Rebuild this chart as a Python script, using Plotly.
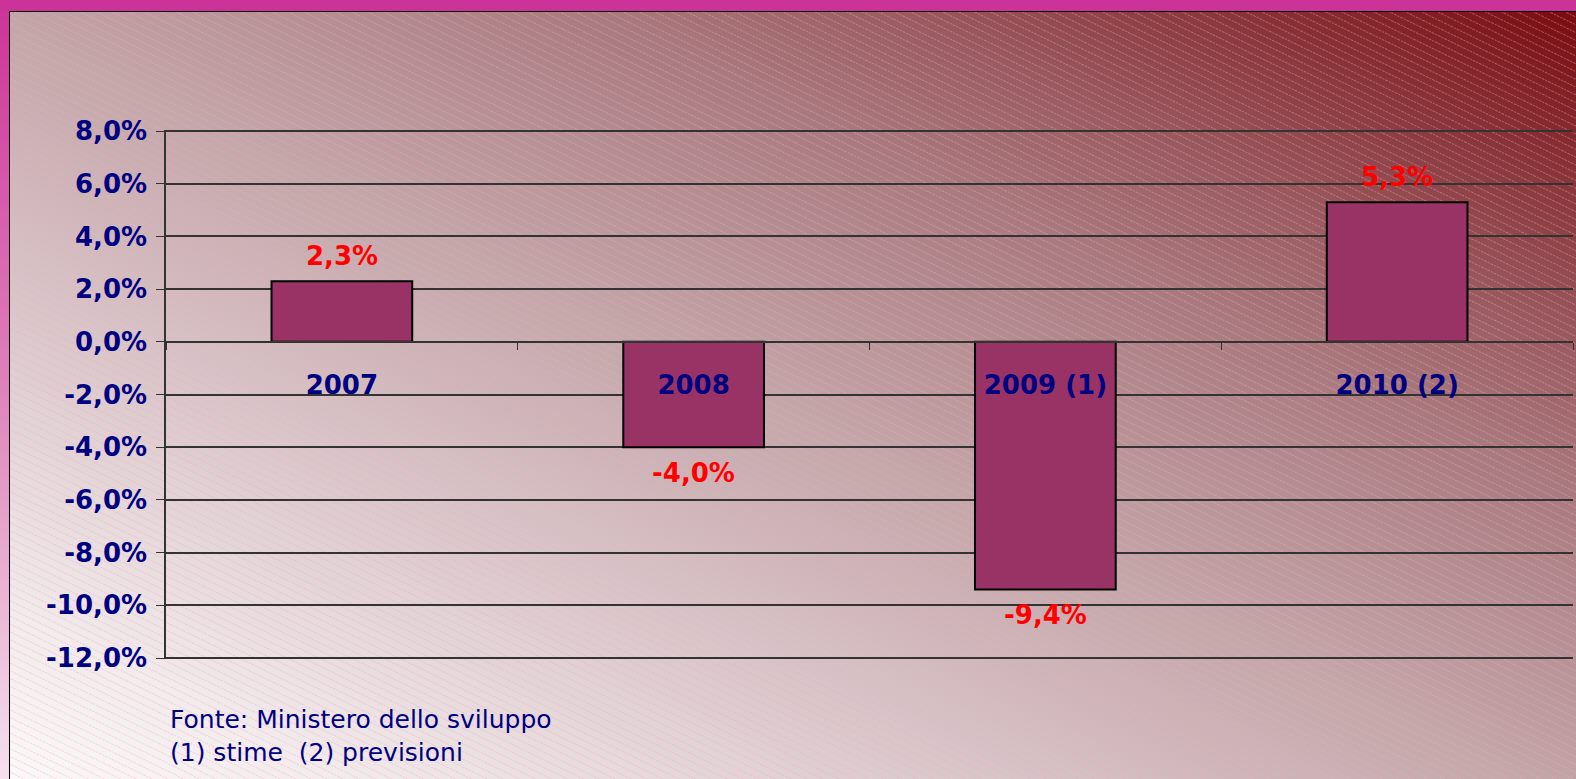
import base64
import plotly.graph_objects as go

# dati (variazione % annua)
anni = ["2007", "2008", "2009 (1)", "2010 (2)"]
valori = [2.3, -4.0, -9.4, 5.3]
etichette = ["2,3%", "-4,0%", "-9,4%", "5,3%"]
tick_vals = [8, 6, 4, 2, 0, -2, -4, -6, -8, -10, -12]
tick_text = ["8,0%", "6,0%", "4,0%", "2,0%", "0,0%", "-2,0%", "-4,0%",
             "-6,0%", "-8,0%", "-10,0%", "-12,0%"]
nota = "Fonte: Ministero dello sviluppo<br>(1) stime  (2) previsioni"

W, H = 1576, 779
NAVY = "#000080"
FONT = "DejaVu Sans"

# sfondo: cornice magenta + gradiente diagonale con tratteggio (svg inline)
svg = f"""<svg xmlns='http://www.w3.org/2000/svg' width='{W}' height='{H}' viewBox='0 0 {W} {H}' preserveAspectRatio='none'>
<defs>
<linearGradient id='side' x1='0' y1='0' x2='0' y2='1'>
 <stop offset='0' stop-color='#cc3399'/><stop offset='0.5' stop-color='#df82bb'/>
 <stop offset='1' stop-color='#f4e1ec'/></linearGradient>
<linearGradient id='bg' x1='0' y1='1' x2='1' y2='0'>
 <stop offset='0' stop-color='#fbf9f9'/><stop offset='0.11' stop-color='#f2ecec'/>
 <stop offset='0.37' stop-color='#d2bcbe'/><stop offset='0.5' stop-color='#c2a5a7'/>
 <stop offset='0.69' stop-color='#a87a7d'/><stop offset='0.78' stop-color='#9a5c60'/>
 <stop offset='0.85' stop-color='#8e4246'/><stop offset='0.96' stop-color='#7e1a1d'/>
 <stop offset='1' stop-color='#780a0c'/></linearGradient>
<pattern id='hatch' width='7' height='7' patternUnits='userSpaceOnUse' patternTransform='rotate(26)'>
 <line x1='0' y1='3.5' x2='7' y2='3.5' stroke='#ff9fcf' stroke-opacity='0.45' stroke-width='0.9' stroke-dasharray='2,1'/>
</pattern>
</defs>
<rect x='0' y='0' width='{W}' height='{H}' fill='url(#side)'/>
<rect x='0' y='0' width='{W}' height='11' fill='#cc3399'/>
<rect x='9.5' y='11.5' width='{W}' height='{H}' fill='url(#bg)' stroke='#000' stroke-width='1'/>
<rect x='10' y='12' width='{W}' height='{H}' fill='url(#hatch)'/>
</svg>"""
svg_uri = "data:image/svg+xml;base64," + base64.b64encode(svg.encode()).decode()

# range leggermente allargato perche' le griglie a 8% e -12% vengano disegnate
eps = 0.05
y_min, y_max = -12 - eps, 8 + eps
px_unit = (658 - 131) / 20
y_dom = [(H - 658 - eps * px_unit) / H, (H - 131 + eps * px_unit) / H]
zero_pos = y_dom[0] + (y_dom[1] - y_dom[0]) * (0 - y_min) / (y_max - y_min)

fig = go.Figure()
fig.add_trace(go.Bar(
    x=anni, y=valori,
    marker=dict(color="#993366", line=dict(color="black", width=2)),
    width=0.4, hoverinfo="skip",
))

# etichette dei valori sopra/sotto le barre (x = indice di categoria)
for i, (v, t) in enumerate(zip(valori, etichette)):
    fig.add_annotation(x=i, y=v, text=t, showarrow=False,
                       yshift=25 if v > 0 else -26,
                       font=dict(family=FONT, size=26, color="#ff0000", weight="bold"))

fig.add_annotation(xref="paper", yref="paper", x=168 / W, y=(H - 703) / H,
                   xanchor="left", yanchor="top", align="left", showarrow=False,
                   text=nota, font=dict(family=FONT, size=25, color=NAVY))

fig.update_layout(
    width=W, height=H,
    margin=dict(l=0, r=0, t=0, b=0, autoexpand=False),
    paper_bgcolor="rgba(0,0,0,0)", plot_bgcolor="rgba(0,0,0,0)",
    showlegend=False,
    images=[dict(source=svg_uri, xref="paper", yref="paper", x=0, y=1,
                 sizex=1, sizey=1, sizing="stretch", layer="below",
                 xanchor="left", yanchor="top")],
    xaxis=dict(type="category", range=[-0.5, len(anni) - 0.5],
               domain=[166 / W, 1573 / W], anchor="free",
               position=zero_pos, automargin=False,
               showline=True, linecolor="#333333", linewidth=1.5,
               showgrid=False, tickson="boundaries", ticks="outside",
               ticklen=7, tickcolor="#333333", ticklabelstandoff=20,
               tickangle=0,
               tickfont=dict(family=FONT, size=26, color=NAVY, weight="bold")),
    yaxis=dict(domain=y_dom, range=[y_min, y_max], tickvals=tick_vals,
               ticktext=tick_text, showgrid=True, gridcolor="#333333",
               gridwidth=1.5, zeroline=False, showline=True, automargin=False,
               linecolor="#333333", linewidth=1.5, ticks="outside",
               ticklen=8, tickcolor="#333333", ticklabelstandoff=4,
               tickfont=dict(family=FONT, size=26, color=NAVY, weight="bold")),
)

fig.write_html("out.html", config={"displayModeBar": False},
               post_script="document.body.style.margin='0';")
